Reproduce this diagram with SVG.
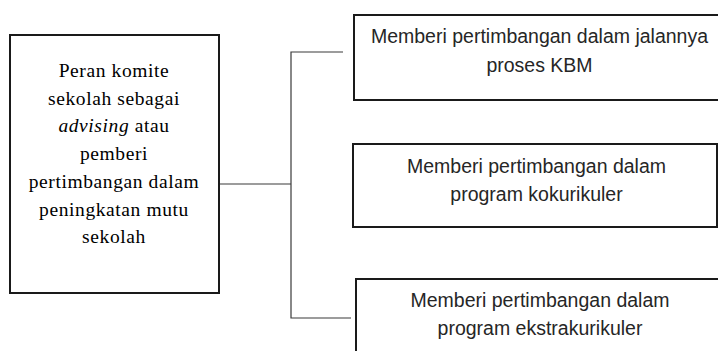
<svg xmlns="http://www.w3.org/2000/svg" width="718" height="351" viewBox="0 0 718 351">
<style>
.box{fill:#fff;stroke:#1a1a1a;stroke-width:2}
.serif{font-family:"Liberation Serif","Times New Roman",serif;font-size:19.5px;letter-spacing:0.6px;fill:#000;text-anchor:middle}
.sans{font-family:"Liberation Sans",Arial,sans-serif;font-size:19.5px;fill:#262626;text-anchor:middle}
.conn{fill:none;stroke:#3a3a3a;stroke-width:1.2}
</style>
<rect width="718" height="351" fill="#fff"/>
<g id="connectors">
<polyline class="conn" points="219,184 291,184"/>
<polyline class="conn" points="343,52 291,52 291,318 351,318"/>
</g>
<g id="main">
<rect class="box" x="10" y="35" width="209" height="258"/>
<text class="serif" x="114" y="77">Peran komite</text>
<text class="serif" x="114" y="104.7">sekolah sebagai</text>
<text class="serif" x="114" y="132.4"><tspan font-style="italic">advising</tspan> atau</text>
<text class="serif" x="114" y="160.1">pemberi</text>
<text class="serif" x="114" y="187.8">pertimbangan dalam</text>
<text class="serif" x="114" y="215.5">peningkatan mutu</text>
<text class="serif" x="114" y="243.2">sekolah</text>
</g>
<g id="kbm">
<rect class="box" x="354" y="15" width="380" height="85"/>
<text class="sans" x="539.5" y="43">Memberi pertimbangan dalam jalannya</text>
<text class="sans" x="539.5" y="72">proses KBM</text>
</g>
<g id="kokurikuler">
<rect class="box" x="353" y="144" width="364" height="83"/>
<text class="sans" x="536.5" y="172.5">Memberi pertimbangan dalam</text>
<text class="sans" x="536.5" y="201">program kokurikuler</text>
</g>
<g id="ekstrakurikuler">
<rect class="box" x="356" y="279" width="380" height="90"/>
<text class="sans" x="540" y="306.5">Memberi pertimbangan dalam</text>
<text class="sans" x="540" y="335">program ekstrakurikuler</text>
</g>
</svg>
